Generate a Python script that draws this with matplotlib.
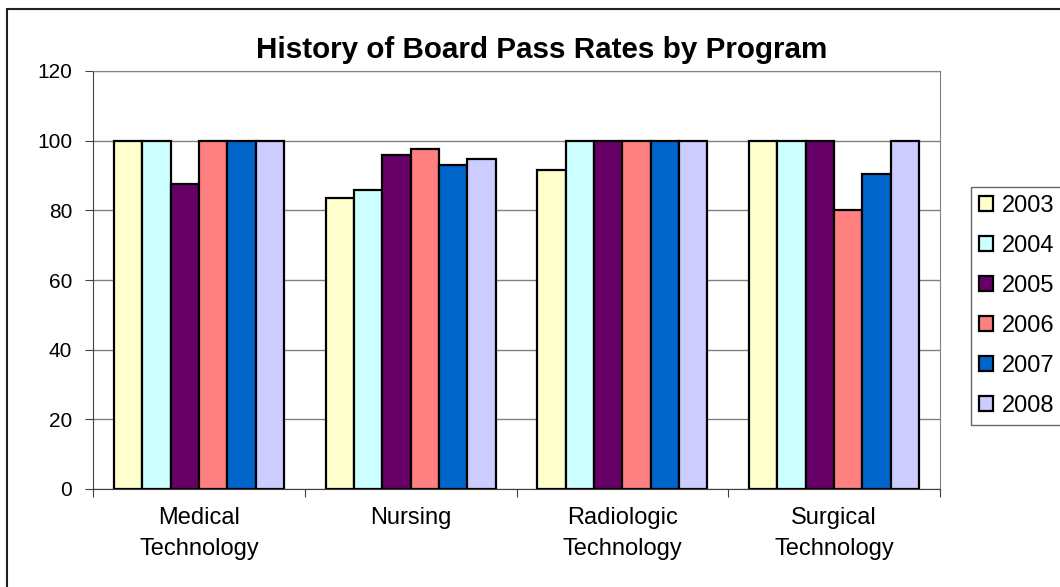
import matplotlib
matplotlib.use("Agg")
import matplotlib.pyplot as plt
import numpy as np
from matplotlib.patches import Rectangle

plt.rcParams['font.family'] = ['Liberation Sans', 'DejaVu Sans']

programs = ["Medical\nTechnology", "Nursing", "Radiologic\nTechnology", "Surgical\nTechnology"]
years = ["2003", "2004", "2005", "2006", "2007", "2008"]
rates_2003 = [100, 83.5, 91.7, 100]
rates_2004 = [100, 85.9, 100, 100]
rates_2005 = [87.5, 95.8, 100, 100]
rates_2006 = [100, 97.6, 100, 80]
rates_2007 = [100, 92.9, 100, 90.5]
rates_2008 = [100, 94.6, 100, 100]
colors = ["#FFFFCC", "#CCFFFF", "#660066", "#FF8080", "#0066CC", "#CCCCFF"]

series = [rates_2003, rates_2004, rates_2005, rates_2006, rates_2007, rates_2008]

fig = plt.figure(figsize=(10.6, 5.87), dpi=100)
ax = fig.add_axes([93/1060, 1 - 489/587, 847/1060, 418/587])

# outer chart border (runs off the right and bottom edges like the original)
fig.patches.append(Rectangle((7/1060, -0.1), 1.2, 1 - 9/587 + 0.1, transform=fig.transFigure,
                             fill=False, edgecolor='#202020', linewidth=1.5))

x = np.arange(len(programs))
bw = 0.134
for i, (vals, c, yr) in enumerate(zip(series, colors, years)):
    ax.bar(x + (i - 2.5) * bw, vals, width=bw, color=c, edgecolor='black',
           linewidth=1.6, label=yr, zorder=3)

ax.set_xlim(-0.5, len(programs) - 0.5)
ax.set_ylim(0, 120)
ax.set_yticks(range(0, 121, 20))
ax.yaxis.grid(True, color='#808080', linewidth=1, zorder=0)
ax.set_xticks(np.arange(-0.5, len(programs), 1))
ax.set_xticklabels([])
ax.set_xticks(x, minor=True)
ax.set_xticklabels(programs, minor=True, fontsize=17, linespacing=1.55)
ax.tick_params(axis='x', which='minor', length=0, pad=13)
ax.tick_params(axis='x', which='major', length=6, direction='out', color='#404040')
ax.tick_params(axis='y', length=6, direction='out', color='#404040', labelsize=15, pad=9)

for s in ['top', 'right']:
    ax.spines[s].set_color('#808080')
for s in ['left', 'bottom']:
    ax.spines[s].set_color('#404040')

fig.text(542/1060, 1 - 50/587, "History of Board Pass Rates by Program", fontsize=21.3,
         fontweight='bold', ha='center', va='center')

leg = fig.legend(loc='upper left', bbox_to_anchor=(971/1060, 1 - 187/587), fontsize=17,
                 frameon=True, fancybox=False, edgecolor='#404040', handlelength=0.6,
                 handleheight=0.6, handletextpad=0.35, labelspacing=0.76, borderpad=0.35,
                 borderaxespad=0)
leg.get_frame().set_linewidth(1)
for h in leg.legend_handles:
    h.set_linewidth(1.6)

fig.savefig("out.png", dpi=100)
